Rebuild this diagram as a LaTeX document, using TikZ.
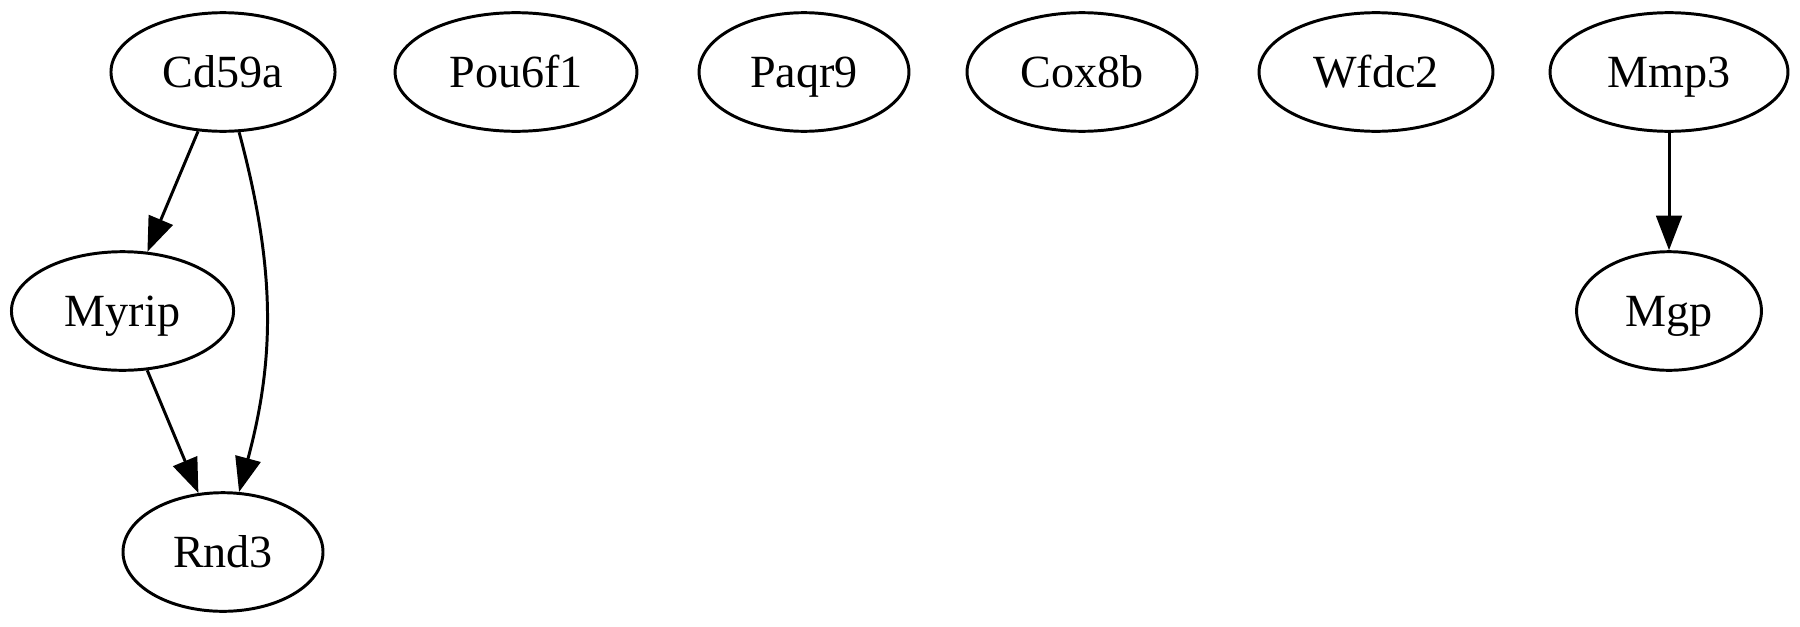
\documentclass[tikz,border=0pt]{standalone}
\usepackage{fontspec}
\setmainfont{Liberation Serif}
\usepackage{tikz}
\usetikzlibrary{arrows.meta,shapes.geometric}

\begin{document}
\begin{tikzpicture}[
  x=0.3035pt, y=-0.3035pt,
  gene/.style={draw, ellipse, line width=0.9pt, inner sep=0pt, minimum height=36pt,
               text height=9.2pt, text depth=0pt, font=\fontsize{14}{16}\selectfont},
  arr/.style={-{Triangle[length=10.5pt, width=7.8pt]}, line width=0.9pt}]

\useasboundingbox (0,0) rectangle (1800,626);

% top rank
\node[gene, minimum width=68pt]   (cd59a)  at (223,72)  {Cd59a};
\node[gene, minimum width=73.4pt] (pou6f1) at (516,72)  {Pou6f1};
\node[gene, minimum width=63.7pt] (paqr9)  at (804,72)  {Paqr9};
\node[gene, minimum width=69.8pt] (cox8b)  at (1082,72) {Cox8b};
\node[gene, minimum width=71pt]   (wfdc2)  at (1376,72) {Wfdc2};
\node[gene, minimum width=72.2pt] (mmp3)   at (1669,72) {Mmp3};

% lower ranks
\node[gene, minimum width=67.4pt] (myrip) at (122.5,311) {Myrip};
\node[gene, minimum width=56.1pt] (mgp)   at (1669,311) {Mgp};
\node[gene, minimum width=60.7pt] (rnd3)  at (223,552)   {Rnd3};

\draw[arr] (cd59a) -- (myrip);
\draw[arr] (cd59a) to[out=-75, in=75] (rnd3);
\draw[arr] (myrip) -- (rnd3);
\draw[arr] (mmp3) -- (mgp);
\end{tikzpicture}
\end{document}
